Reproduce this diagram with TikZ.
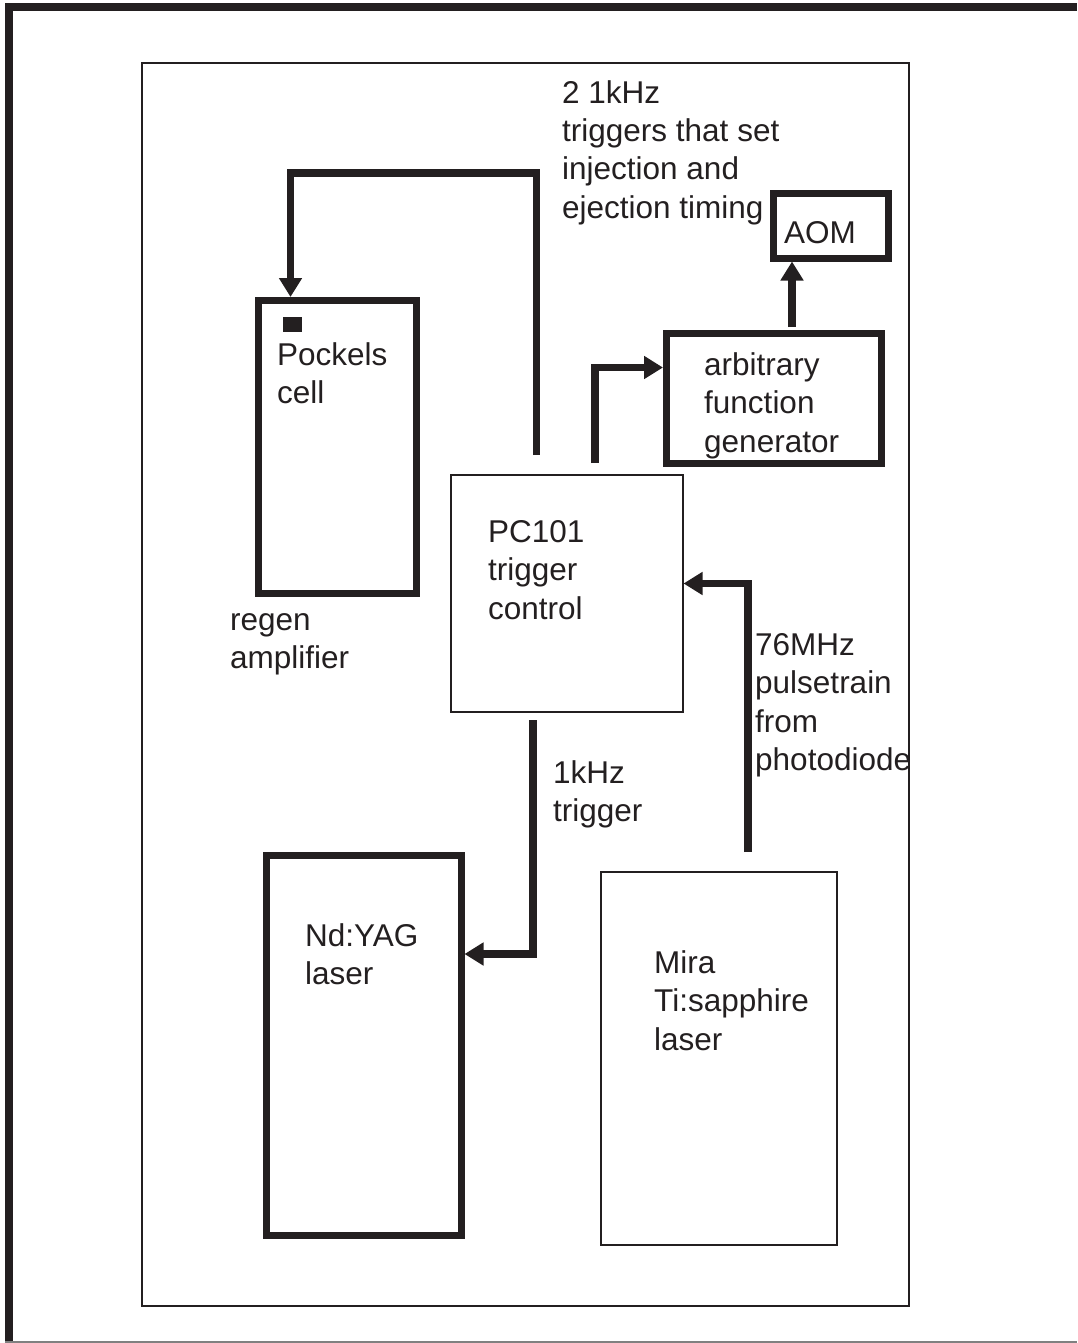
\documentclass[tikz,border=0pt]{standalone}
\usepackage{fontspec}
\setmainfont{Liberation Sans}
\usetikzlibrary{arrows.meta}
\definecolor{ink}{RGB}{35,31,32}
\begin{document}
\begin{tikzpicture}[x=1pt,y=-1pt,
  thickbox/.style={draw=ink, line width=7pt, inner sep=0pt},
  thinbox/.style={draw=ink, line width=2pt, inner sep=0pt},
  conn/.style={draw=ink, line width=7.5pt, -{Triangle[length=19pt,width=22pt]}},
  lbl/.style={font=\fontsize{31.5}{38.5}\selectfont, text=ink, align=left, anchor=base west, inner sep=0pt}]
\useasboundingbox (0,0) rectangle (1077,1343);
% outer frame
\draw[ink, line width=8pt] (9,1343) -- (9,7.5) -- (1077,7.5);
\draw[gray, line width=2pt] (5,1342) -- (1077,1342);
% inner frame
\draw[ink, line width=2pt] (141.5,63.5) rectangle (909,1306);
% boxes
\node[thickbox, minimum width=158pt, minimum height=292.5pt] (pockels) at (337.5,446.75) {};
\fill[ink] (283,317) rectangle (302,332);
\node[thinbox, minimum width=231.5pt, minimum height=237pt] (pc) at (566.75,593) {};
\node[thickbox, minimum width=215pt, minimum height=130pt] (afg) at (774,398.5) {};
\node[thickbox, minimum width=115pt, minimum height=64pt] (aom) at (831,226) {};
\node[thickbox, minimum width=194.5pt, minimum height=379.5pt] (nd) at (363.75,1045.25) {};
\node[thinbox, minimum width=236pt, minimum height=373pt] (mira) at (719,1058.5) {};
% labels (base anchor = baseline of last line)
\node[lbl] (tpockels) at (277,403.5) {Pockels\\cell};
\node[lbl] (tregen) at (230,668.5) {regen\\amplifier};
\node[lbl] (tpc) at (488,619) {PC101\\trigger\\control};
\node[lbl] (tafg) at (704,452) {arbitrary\\function\\generator};
\node[lbl] (taom) at (784,243) {AOM};
\node[lbl] (ttrig2) at (562,218.5) {2 1kHz\\triggers that set\\injection and\\ejection timing};
\node[lbl] (t1k) at (553,821.5) {1kHz\\trigger};
\node[lbl] (t76) at (755,770.5) {76MHz\\pulsetrain\\from\\photodiode};
\node[lbl] (tnd) at (305,984.5) {Nd:YAG\\laser};
\node[lbl] (tmira) at (654,1050) {Mira\\Ti:sapphire\\laser};
% connector start points
\coordinate (s1) at (536.5,455);
\coordinate (s2) at (595,463);
\coordinate (s3) at (792,327);
\coordinate (s4) at (533,720);
\coordinate (s5) at (748,852);
% connectors
\draw[conn] (s1) -- ++(0,-282) -| ([xshift=35.5pt]pockels.north west);
\draw[conn] (s2) |- ([yshift=31pt]afg.west);
\draw[conn] (s3) -- ([xshift=-39pt]aom.south);
\draw[conn] (s4) |- ([yshift=91.25pt]nd.east);
\draw[conn] (s5) |- ([yshift=9.5pt]pc.east);
\end{tikzpicture}
\end{document}
